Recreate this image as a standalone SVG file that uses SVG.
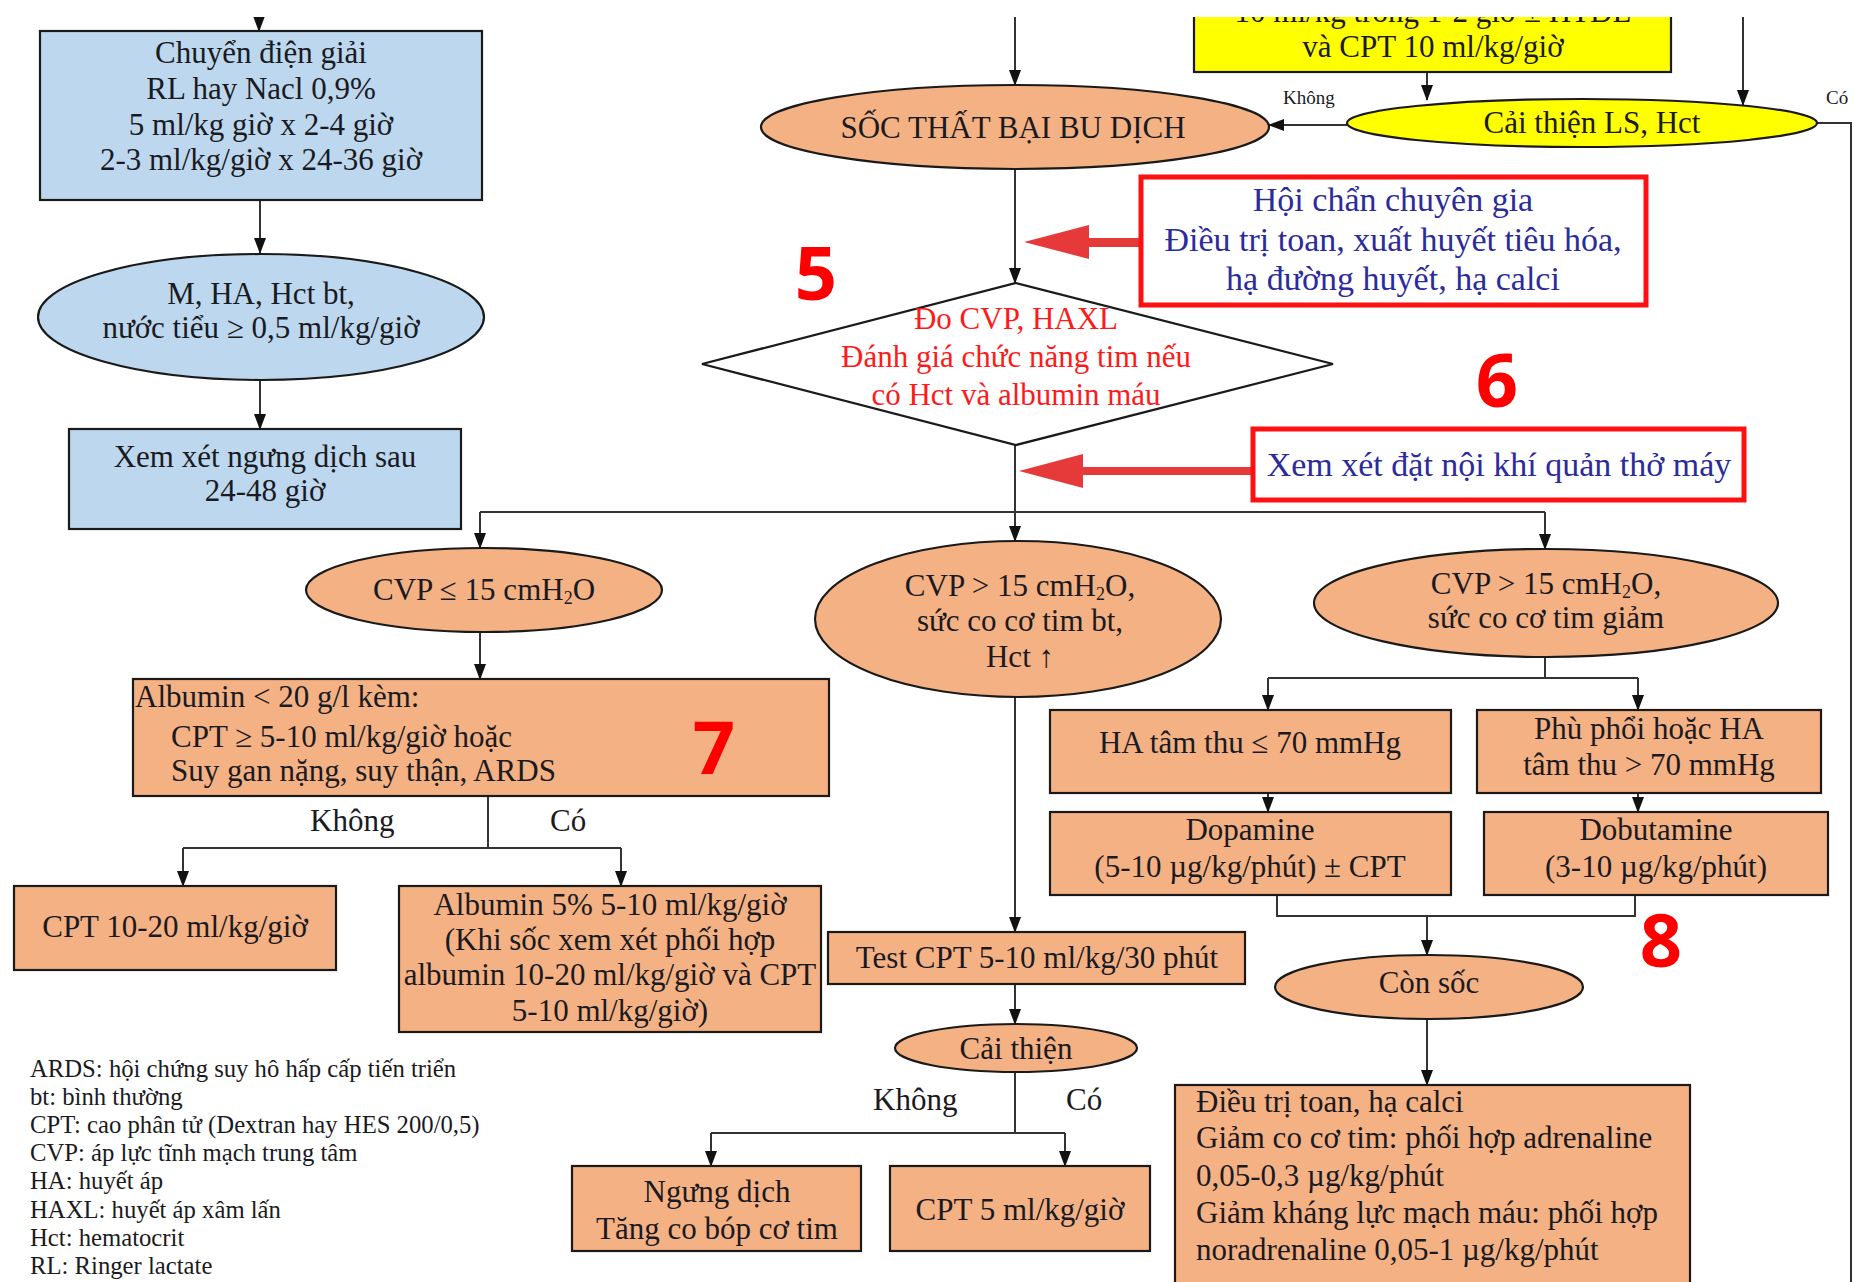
<svg xmlns="http://www.w3.org/2000/svg" width="1854" height="1282" viewBox="0 0 1854 1282">
<style>
text{font-family:"Liberation Serif","Times New Roman",serif;fill:#1a1a22;font-size:31px}
.c{text-anchor:middle}
.box{stroke:#1a1a1a;stroke-width:2.2}
.blue{fill:#bdd7ee}
.org{fill:#f4b183}
.yel{fill:#ffff00}
.con{fill:none;stroke:#333;stroke-width:2}
.red{fill:none;stroke:#ff1010;stroke-width:5}
.bt{fill:#2b2b9c;font-size:34px}
.rt{fill:#ff1a1a}
.num{font-family:"Open Sans","Noto Sans",sans-serif;font-weight:bold;font-size:74px;fill:#ff0000;text-anchor:middle}
.lg{font-size:24.7px}
.sm{font-size:19px}
.ra{fill:#e63a3a}
</style>
<defs>
<marker id="ah" markerUnits="userSpaceOnUse" markerWidth="16" markerHeight="12" refX="15" refY="6" orient="auto">
<path d="M0,0 L16,6 L0,12 z" fill="#111"/>
</marker>
<clipPath id="frame"><rect x="0" y="17" width="1854" height="1265"/></clipPath>
</defs>
<rect x="0" y="0" width="1854" height="1282" fill="#fff"/>
<g clip-path="url(#frame)">
<g id="connectors">
<path class="con" d="M259,0 V31" marker-end="url(#ah)"/>
<path class="con" d="M260,200 V253" marker-end="url(#ah)"/>
<path class="con" d="M260,380 V429" marker-end="url(#ah)"/>
<path class="con" d="M1015,0 V85" marker-end="url(#ah)"/>
<path class="con" d="M1427,72 V100" marker-end="url(#ah)"/>
<path class="con" d="M1743,0 V105" marker-end="url(#ah)"/>
<path class="con" d="M1347,125 H1269" marker-end="url(#ah)"/>
<path class="con" d="M1816,123 H1851 V1290" stroke="#555"/>
<path class="con" d="M1015,169 V283" marker-end="url(#ah)"/>
<path class="con" d="M1015,445 V541" marker-end="url(#ah)"/>
<path class="con" d="M480,512 H1545"/>
<path class="con" d="M480,512 V548" marker-end="url(#ah)"/>
<path class="con" d="M1545,512 V549" marker-end="url(#ah)"/>
<path class="con" d="M480,632 V679" marker-end="url(#ah)"/>
<path class="con" d="M488,796 V848 M183,848 H621"/>
<path class="con" d="M183,848 V886" marker-end="url(#ah)"/>
<path class="con" d="M621,848 V886" marker-end="url(#ah)"/>
<path class="con" d="M1545,657 V678 M1268,678 H1638"/>
<path class="con" d="M1268,678 V710" marker-end="url(#ah)"/>
<path class="con" d="M1638,678 V710" marker-end="url(#ah)"/>
<path class="con" d="M1268,793 V812" marker-end="url(#ah)"/>
<path class="con" d="M1638,793 V812" marker-end="url(#ah)"/>
<path class="con" d="M1277,895 V916 H1635 V895"/>
<path class="con" d="M1427,916 V955" marker-end="url(#ah)"/>
<path class="con" d="M1427,1019 V1085" marker-end="url(#ah)"/>
<path class="con" d="M1015,697 V932" marker-end="url(#ah)"/>
<path class="con" d="M1015,984 V1024" marker-end="url(#ah)"/>
<path class="con" d="M1015,1072 V1133 M711,1133 H1065"/>
<path class="con" d="M711,1133 V1166" marker-end="url(#ah)"/>
<path class="con" d="M1065,1133 V1166" marker-end="url(#ah)"/>
<rect class="ra" x="1086" y="238" width="56" height="9"/>
<path class="ra" d="M1024,242 L1089,225 L1089,259 z"/>
<rect class="ra" x="1080" y="467" width="175" height="8"/>
<path class="ra" d="M1019,471 L1083,454 L1083,488 z"/>
<text class="sm" x="1283" y="104">Không</text>
<text class="sm" x="1826" y="104">Có</text>
<text x="310" y="831">Không</text>
<text x="550" y="831">Có</text>
<text x="873" y="1110">Không</text>
<text x="1066" y="1110">Có</text>
</g>
<g id="n_chuyen">
<rect class="box blue" x="40" y="31" width="442" height="169"/>
<text class="c" x="261" y="63">Chuyển điện giải</text>
<text class="c" x="261" y="99">RL hay Nacl 0,9%</text>
<text class="c" x="261" y="135">5 ml/kg giờ x 2-4 giờ</text>
<text class="c" x="261" y="170">2-3 ml/kg/giờ x 24-36 giờ</text>
</g>
<g id="n_mha">
<ellipse class="box blue" cx="261" cy="317" rx="223" ry="63"/>
<text class="c" x="261" y="304">M, HA, Hct bt,</text>
<text class="c" x="261" y="338">nước tiểu ≥ 0,5 ml/kg/giờ</text>
</g>
<g id="n_xemxet">
<rect class="box blue" x="69" y="429" width="392" height="100"/>
<text class="c" x="265" y="467">Xem xét ngưng dịch sau</text>
<text class="c" x="265" y="501">24-48 giờ</text>
</g>
<g id="n_yellowbox">
<rect class="box yel" x="1194" y="-10" width="477" height="82"/>
<text class="c" x="1433" y="22">10 ml/kg trong 1-2 giờ ± HTĐL</text>
<text class="c" x="1433" y="57">và CPT 10 ml/kg/giờ</text>
</g>
<g id="n_caithienls">
<ellipse class="box yel" cx="1582" cy="123" rx="235" ry="24"/>
<text class="c" x="1592" y="133">Cải thiện LS, Hct</text>
</g>
<g id="n_soc">
<ellipse class="box org" cx="1015" cy="127" rx="254" ry="42"/>
<text class="c" x="1013" y="138">SỐC THẤT BẠI BU DỊCH</text>
</g>
<g id="n_hoichan">
<rect class="red" x="1141" y="177" width="505" height="128" fill="#fff"/>
<text class="c bt" x="1393" y="211">Hội chẩn chuyên gia</text>
<text class="c bt" x="1393" y="251">Điều trị toan, xuất huyết tiêu hóa,</text>
<text class="c bt" x="1393" y="290">hạ đường huyết, hạ calci</text>
</g>
<g id="n_do">
<polygon class="box" fill="#fff" points="1016,283 1333,364 1016,445 702,364"/>
<text class="c rt" x="1016" y="329">Đo CVP, HAXL</text>
<text class="c rt" x="1016" y="367">Đánh giá chức năng tim nếu</text>
<text class="c rt" x="1016" y="405">có Hct và albumin máu</text>
</g>
<g id="n_noikhiquan">
<rect class="red" x="1253" y="429" width="491" height="71" fill="#fff"/>
<text class="c bt" x="1499" y="476">Xem xét đặt nội khí quản thở máy</text>
</g>
<g id="n_cvple">
<ellipse class="box org" cx="484" cy="590" rx="178" ry="42"/>
<text class="c" x="484" y="600">CVP ≤ 15 cmH<tspan font-size="18" dy="4">2</tspan><tspan dy="-4">O</tspan></text>
</g>
<g id="n_cvpbt">
<ellipse class="box org" cx="1018" cy="619" rx="203" ry="78"/>
<text class="c" x="1020" y="596">CVP &gt; 15 cmH<tspan font-size="18" dy="4">2</tspan><tspan dy="-4">O,</tspan></text>
<text class="c" x="1020" y="631">sức co cơ tim bt,</text>
<text class="c" x="1020" y="667">Hct ↑</text>
</g>
<g id="n_cvpgiam">
<ellipse class="box org" cx="1546" cy="603" rx="232" ry="54"/>
<text class="c" x="1546" y="594">CVP &gt; 15 cmH<tspan font-size="18" dy="4">2</tspan><tspan dy="-4">O,</tspan></text>
<text class="c" x="1546" y="628">sức co cơ tim giảm</text>
</g>
<g id="n_albumin">
<rect class="box org" x="133" y="679" width="696" height="117"/>
<text x="135" y="707">Albumin &lt; 20 g/l kèm:</text>
<text x="171" y="747">CPT ≥ 5-10 ml/kg/giờ hoặc</text>
<text x="171" y="781">Suy gan nặng, suy thận, ARDS</text>
</g>
<g id="n_cpt1020">
<rect class="box org" x="14" y="886" width="322" height="84"/>
<text class="c" x="175" y="937">CPT 10-20 ml/kg/giờ</text>
</g>
<g id="n_albumin5">
<rect class="box org" x="399" y="886" width="422" height="146"/>
<text class="c" x="610" y="915">Albumin 5% 5-10 ml/kg/giờ</text>
<text class="c" x="610" y="950">(Khi sốc xem xét phối hợp</text>
<text class="c" x="610" y="985">albumin 10-20 ml/kg/giờ và CPT</text>
<text class="c" x="610" y="1021">5-10 ml/kg/giờ)</text>
</g>
<g id="n_hale70">
<rect class="box org" x="1050" y="710" width="401" height="83"/>
<text class="c" x="1250" y="753">HA tâm thu ≤ 70 mmHg</text>
</g>
<g id="n_phuphoi">
<rect class="box org" x="1477" y="710" width="344" height="83"/>
<text class="c" x="1649" y="739">Phù phổi hoặc HA</text>
<text class="c" x="1649" y="775">tâm thu &gt; 70 mmHg</text>
</g>
<g id="n_dopamine">
<rect class="box org" x="1050" y="812" width="401" height="83"/>
<text class="c" x="1250" y="840">Dopamine</text>
<text class="c" x="1250" y="877">(5-10 µg/kg/phút) ± CPT</text>
</g>
<g id="n_dobutamine">
<rect class="box org" x="1484" y="812" width="344" height="83"/>
<text class="c" x="1656" y="840">Dobutamine</text>
<text class="c" x="1656" y="877">(3-10 µg/kg/phút)</text>
</g>
<g id="n_consoc">
<ellipse class="box org" cx="1429" cy="987" rx="154" ry="32"/>
<text class="c" x="1429" y="993">Còn sốc</text>
</g>
<g id="n_dieutri">
<rect class="box org" x="1175" y="1085" width="515" height="215"/>
<text x="1196" y="1112">Điều trị toan, hạ calci</text>
<text x="1196" y="1148">Giảm co cơ tim: phối hợp adrenaline</text>
<text x="1196" y="1186">0,05-0,3 µg/kg/phút</text>
<text x="1196" y="1223">Giảm kháng lực mạch máu: phối hợp</text>
<text x="1196" y="1260">noradrenaline 0,05-1 µg/kg/phút</text>
</g>
<g id="n_test">
<rect class="box org" x="828" y="932" width="417" height="52"/>
<text class="c" x="1037" y="968">Test CPT 5-10 ml/kg/30 phút</text>
</g>
<g id="n_caithien">
<ellipse class="box org" cx="1016" cy="1048" rx="121" ry="24"/>
<text class="c" x="1016" y="1059">Cải thiện</text>
</g>
<g id="n_ngung">
<rect class="box org" x="572" y="1166" width="289" height="85"/>
<text class="c" x="717" y="1202">Ngưng dịch</text>
<text class="c" x="717" y="1239">Tăng co bóp cơ tim</text>
</g>
<g id="n_cpt5">
<rect class="box org" x="890" y="1166" width="260" height="85"/>
<text class="c" x="1020" y="1220">CPT 5 ml/kg/giờ</text>
</g>
<g id="legend">
<text class="lg" x="30" y="1077">ARDS: hội chứng suy hô hấp cấp tiến triển</text>
<text class="lg" x="30" y="1105">bt: bình thường</text>
<text class="lg" x="30" y="1133">CPT: cao phân tử (Dextran hay HES 200/0,5)</text>
<text class="lg" x="30" y="1161">CVP: áp lực tĩnh mạch trung tâm</text>
<text class="lg" x="30" y="1189">HA: huyết áp</text>
<text class="lg" x="30" y="1218">HAXL: huyết áp xâm lấn</text>
<text class="lg" x="30" y="1246">Hct: hematocrit</text>
<text class="lg" x="30" y="1274">RL: Ringer lactate</text>
</g>
<g id="numbers">
<text class="num" x="816" y="300">5</text>
<text class="num" x="1497" y="407">6</text>
<text class="num" x="714" y="774">7</text>
<text class="num" x="1661" y="967">8</text>
</g>
</g>
</svg>
